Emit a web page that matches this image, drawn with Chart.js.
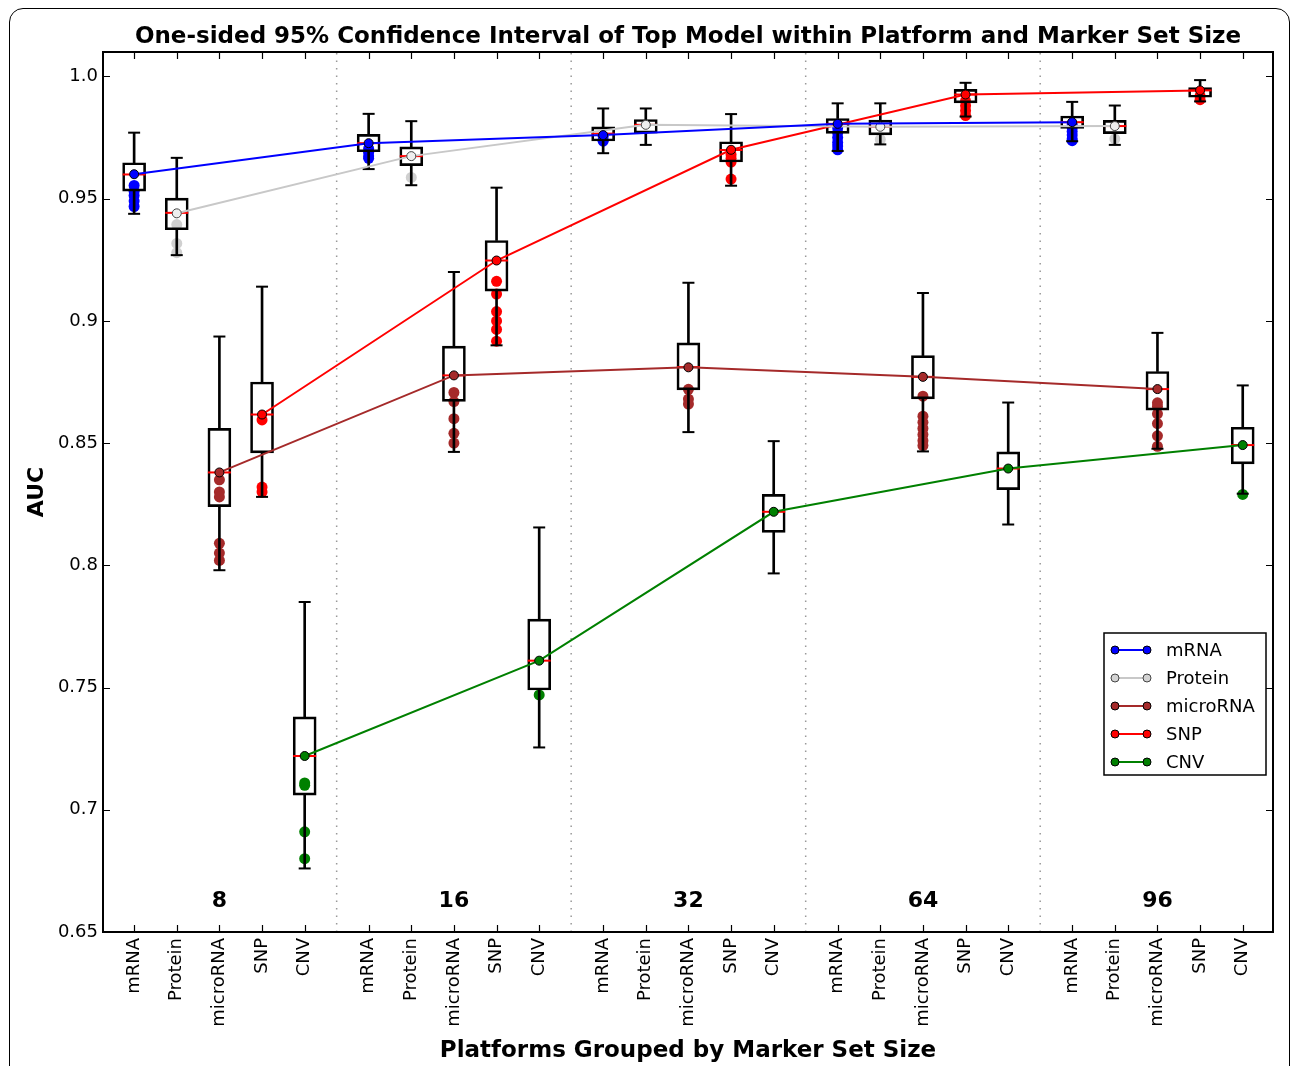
<!DOCTYPE html>
<html>
<head>
<meta charset="utf-8">
<script src="https://cdn.jsdelivr.net/npm/chart.js@4.4.1/dist/chart.umd.min.js"></script>
<style>
  body { margin: 0; background: #fff; overflow: hidden; }
  #wrap { position: relative; width: 1292px; height: 1066px; }
  #frame { position: absolute; left: 9px; top: 8px; width: 1279px; height: 1100px;
           border: 1.5px solid #000; border-radius: 14px; pointer-events: none; }
</style>
</head>
<body>
<div id="wrap">
  <canvas id="grafico" width="1292" height="1066"></canvas>
  <div id="frame"></div>
</div>
<script>
// categories
var platforms = ["mRNA", "Protein", "microRNA", "SNP", "CNV"];
var setSizes = ["8", "16", "32", "64", "96"];
var yTicks = [0.65, 0.7, 0.75, 0.8, 0.85, 0.9, 0.95, 1.0];
var yTickLabels = ["0.65", "0.7", "0.75", "0.8", "0.85", "0.9", "0.95", "1.0"];

// top model AUC per marker set size (the connected line)
var mrnaTop = [0.960, 0.9727, 0.976, 0.9806, 0.9813];
var proteinTop = [0.944, 0.9674, 0.9802, 0.9794, 0.9797];
var micrornaTop = [0.838, 0.8777, 0.881, 0.8771, 0.8721];
var snpTop = [0.8617, 0.9247, 0.970, 0.9926, 0.9943];
var cnvTop = [0.722, 0.761, 0.8219, 0.8396, 0.8492];

// box stats: [whisker low, q1, median, q3, whisker high]
var mrnaBoxes = [
    [0.9438, 0.9531, 0.9599, 0.9647, 0.977],
    [0.9621, 0.9692, 0.9727, 0.9763, 0.9847],
    [0.9686, 0.9736, 0.9766, 0.9794, 0.9869],
    [0.9695, 0.9767, 0.9806, 0.9828, 0.989],
    [0.9735, 0.9787, 0.9813, 0.9838, 0.9896]
];
var proteinBoxes = [
    [0.9269, 0.9373, 0.9442, 0.9502, 0.9667],
    [0.9555, 0.9635, 0.9674, 0.9712, 0.9817],
    [0.972, 0.9768, 0.9802, 0.9824, 0.9869],
    [0.9722, 0.9761, 0.9794, 0.9821, 0.989],
    [0.972, 0.9766, 0.9797, 0.982, 0.9881]
];
var micrornaBoxes = [
    [0.798, 0.824, 0.838, 0.856, 0.8936],
    [0.8464, 0.8671, 0.8777, 0.8897, 0.920],
    [0.8545, 0.8718, 0.8811, 0.891, 0.9156],
    [0.8466, 0.8681, 0.8771, 0.8858, 0.9114],
    [0.8477, 0.8635, 0.8721, 0.8793, 0.8951]
];
var snpBoxes = [
    [0.828, 0.846, 0.8617, 0.875, 0.914],
    [0.890, 0.9122, 0.9247, 0.9329, 0.9545],
    [0.9553, 0.965, 0.9699, 0.9733, 0.9846],
    [0.9836, 0.9892, 0.9926, 0.9947, 0.9974],
    [0.9898, 0.9915, 0.9943, 0.9954, 0.9985]
];
var cnvBoxes = [
    [0.676, 0.706, 0.722, 0.738, 0.785],
    [0.7255, 0.749, 0.761, 0.778, 0.8155],
    [0.7967, 0.8135, 0.8219, 0.829, 0.8508],
    [0.8167, 0.831, 0.8396, 0.8464, 0.8666],
    [0.8293, 0.8415, 0.8492, 0.8565, 0.8736]
];

// individual model AUCs shown as dots
var mrnaDots = [
    [0.9554, 0.953, 0.9513, 0.949, 0.9468],
    [0.9705, 0.969, 0.9675, 0.9665],
    [0.9755, 0.974, 0.9735],
    [0.979, 0.977, 0.975, 0.973, 0.9715, 0.970],
    [0.9805, 0.979, 0.9775, 0.976, 0.9745, 0.9737]
];
var proteinDots = [
    [0.9394, 0.9317, 0.9279],
    [0.9587],
    [],
    [0.9742],
    [0.9745]
];
var micrornaDots = [
    [0.835, 0.830, 0.828, 0.809, 0.805, 0.802],
    [0.8707, 0.867, 0.860, 0.854, 0.850],
    [0.872, 0.868, 0.866],
    [0.8692, 0.861, 0.8585, 0.856, 0.8535, 0.851, 0.849],
    [0.8665, 0.865, 0.862, 0.858, 0.853, 0.8487]
];
var snpDots = [
    [0.8595, 0.832, 0.830],
    [0.9162, 0.911, 0.9038, 0.900, 0.8965, 0.8917],
    [0.968, 0.9665, 0.965, 0.958],
    [0.990, 0.988, 0.986, 0.984],
    [0.992, 0.9905]
];
var cnvDots = [
    [0.711, 0.710, 0.691, 0.680],
    [0.747],
    [],
    [],
    [0.829]
];

var series = [
    { nome: "mRNA", top: mrnaTop, boxes: mrnaBoxes, dots: mrnaDots, cor: "#0000ff", dotCor: "#0000ff", marcador: "#0000ff", borda: "#000" },
    { nome: "Protein", top: proteinTop, boxes: proteinBoxes, dots: proteinDots, cor: "#c8c8c8", dotCor: "#d0d0d0", marcador: "#eeeeee", borda: "#444" },
    { nome: "microRNA", top: micrornaTop, boxes: micrornaBoxes, dots: micrornaDots, cor: "#a52a2a", dotCor: "#a52a2a", marcador: "#a52a2a", borda: "#000" },
    { nome: "SNP", top: snpTop, boxes: snpBoxes, dots: snpDots, cor: "#ff0000", dotCor: "#ff0000", marcador: "#ff0000", borda: "#000" },
    { nome: "CNV", top: cnvTop, boxes: cnvBoxes, dots: cnvDots, cor: "#008000", dotCor: "#008000", marcador: "#008000", borda: "#000" }
];

var GRUPO = 5.5;
function posicao(g, i) {
    return g * GRUPO + i;
}

var xPosicoes = [];
for (var g = 0; g < setSizes.length; g++) {
    for (var i = 0; i < platforms.length; i++) xPosicoes.push(posicao(g, i));
}

var datasets = [];

// dotted group separators
for (var g = 1; g < setSizes.length; g++) {
    var xs = posicao(g, 0) - (GRUPO - 4) / 2;
    datasets.push({
        type: "scatter", showLine: true, order: 9,
        data: [{ x: xs, y: 0.65 }, { x: xs, y: 1.01 }],
        borderColor: "#999", borderWidth: 1.5, borderDash: [1.5, 6],
        pointRadius: 0
    });
}

var whiskers = [], boxes = [], caps = [], medians = [];
series.forEach(function (s, i) {
    var pontos = [];
    s.dots.forEach(function (lista, g) {
        lista.forEach(function (v) { pontos.push({ x: posicao(g, i), y: v }); });
    });
    datasets.push({
        type: "scatter", order: 8, data: pontos,
        pointRadius: 5.5, pointBackgroundColor: s.dotCor, pointBorderWidth: 0
    });
    s.boxes.forEach(function (b, g) {
        var x = posicao(g, i);
        whiskers.push({ x: x, y: [b[0], b[1]] });
        whiskers.push({ x: x, y: [b[3], b[4]] });
        boxes.push({ x: x, y: [b[1], b[3]] });
        caps.push({ x: x, y: b[0] });
        caps.push({ x: x, y: b[4] });
        medians.push({ x: x, y: b[2] });
    });
});

datasets.push({
    type: "bar", order: 6, grouped: false, data: whiskers,
    barThickness: 2, backgroundColor: "#000", borderWidth: 0
});
datasets.push({
    type: "bar", order: 5, grouped: false, data: boxes,
    barThickness: 23, backgroundColor: "rgba(0,0,0,0)", borderColor: "#000",
    borderWidth: 2, borderSkipped: false
});
datasets.push({
    type: "scatter", order: 5, data: caps,
    pointStyle: "line", pointRadius: 6, pointBorderWidth: 2, pointBorderColor: "#000"
});
datasets.push({
    type: "scatter", order: 4, data: medians,
    pointStyle: "line", pointRadius: 11.5, pointBorderWidth: 2, pointBorderColor: "#ff0000"
});

series.forEach(function (s, i) {
    datasets.push({
        type: "scatter", showLine: true, order: 1,
        data: s.top.map(function (v, g) { return { x: posicao(g, i), y: v }; }),
        borderColor: s.cor, borderWidth: 2,
        pointRadius: 4.5, pointBackgroundColor: s.marcador,
        pointBorderColor: s.borda, pointBorderWidth: 1
    });
});

var fonte = "'DejaVu Sans', 'Liberation Sans', sans-serif";

var moldura = {
    id: "moldura",
    afterDraw: function (chart) {
        var ctx = chart.ctx;
        var a = chart.chartArea;
        var xs = chart.scales.x, ys = chart.scales.y;
        ctx.save();
        // inward tick marks on all four sides
        ctx.strokeStyle = "#000";
        ctx.lineWidth = 1.2;
        ctx.beginPath();
        xs.ticks.forEach(function (t) {
            var px = Math.round(xs.getPixelForValue(t.value)) + 0.5;
            ctx.moveTo(px, a.bottom); ctx.lineTo(px, a.bottom - 7);
            ctx.moveTo(px, a.top); ctx.lineTo(px, a.top + 7);
        });
        ys.ticks.forEach(function (t) {
            var py = Math.round(ys.getPixelForValue(t.value)) + 0.5;
            ctx.moveTo(a.left, py); ctx.lineTo(a.left + 7, py);
            ctx.moveTo(a.right, py); ctx.lineTo(a.right - 7, py);
        });
        ctx.stroke();
        // axes frame
        ctx.lineWidth = 2;
        ctx.strokeRect(a.left, a.top, a.right - a.left, a.bottom - a.top);

        // marker set size labels
        ctx.fillStyle = "#000";
        ctx.font = "bold 22px " + fonte;
        ctx.textAlign = "center";
        ctx.textBaseline = "middle";
        setSizes.forEach(function (rotulo, g) {
            ctx.fillText(rotulo, xs.getPixelForValue(posicao(g, 2)), a.bottom - 31);
        });

        // legend
        var lx = 1104, ly = 633, lw = 162, lh = 142;
        ctx.fillStyle = "#fff";
        ctx.fillRect(lx, ly, lw, lh);
        ctx.strokeStyle = "#000";
        ctx.lineWidth = 1.5;
        ctx.strokeRect(lx, ly, lw, lh);
        ctx.font = "18px " + fonte;
        ctx.textAlign = "left";
        series.forEach(function (s, i) {
            var cy = ly + 17 + i * 28;
            ctx.strokeStyle = s.cor;
            ctx.lineWidth = 2;
            ctx.beginPath();
            ctx.moveTo(lx + 11, cy); ctx.lineTo(lx + 43, cy);
            ctx.stroke();
            [lx + 11, lx + 43].forEach(function (mx) {
                ctx.beginPath();
                ctx.arc(mx, cy, 4, 0, Math.PI * 2);
                ctx.fillStyle = s.nome === "Protein" ? "#d3d3d3" : s.marcador;
                ctx.fill();
                ctx.strokeStyle = s.borda;
                ctx.lineWidth = 1;
                ctx.stroke();
            });
            ctx.fillStyle = "#000";
            ctx.fillText(s.nome, lx + 62, cy + 1);
        });
        ctx.restore();
    }
};

new Chart(document.getElementById("grafico"), {
    type: "scatter",
    data: { datasets: datasets },
    options: {
        responsive: false,
        animation: false,
        events: [],
        layout: { padding: { left: 0, right: 19, top: 0, bottom: 0 } },
        plugins: {
            legend: { display: false },
            tooltip: { enabled: false },
            title: {
                display: true,
                fullSize: false,
                text: "One-sided 95% Confidence Interval of Top Model within Platform and Marker Set Size",
                color: "#000",
                font: { family: fonte, size: 23, weight: "bold" },
                padding: { top: 23, bottom: 1.4 }
            }
        },
        scales: {
            x: {
                type: "linear",
                offset: false,
                min: -0.73,
                max: 26.71,
                grid: { display: false, drawTicks: false, offset: false },
                border: { display: false },
                afterBuildTicks: function (scale) {
                    scale.ticks = xPosicoes.map(function (v) { return { value: v }; });
                },
                afterFit: function (scale) { scale.height = 134; },
                ticks: {
                    autoSkip: false,
                    minRotation: 90,
                    maxRotation: 90,
                    padding: 6,
                    color: "#000",
                    font: { family: fonte, size: 18 },
                    callback: function (v, idx) { return platforms[idx % platforms.length]; }
                },
                title: {
                    display: true,
                    text: "Platforms Grouped by Marker Set Size",
                    color: "#000",
                    font: { family: fonte, size: 23, weight: "bold" },
                    padding: { top: 0, bottom: 1 }
                }
            },
            y: {
                type: "linear",
                offset: false,
                min: 0.65,
                max: 1.01,
                grid: { display: false, drawTicks: false },
                border: { display: false },
                afterBuildTicks: function (scale) {
                    scale.ticks = yTicks.map(function (v) { return { value: v }; });
                },
                afterFit: function (scale) { scale.width = 103; },
                ticks: {
                    padding: 5,
                    color: "#000",
                    font: { family: fonte, size: 18 },
                    callback: function (v, idx) { return yTickLabels[idx]; }
                },
                title: {
                    display: true,
                    text: "AUC",
                    color: "#000",
                    font: { family: fonte, size: 22, weight: "bold" },
                    padding: { top: 24, bottom: 0 }
                }
            }
        }
    },
    plugins: [moldura]
});
</script>
</body>
</html>
